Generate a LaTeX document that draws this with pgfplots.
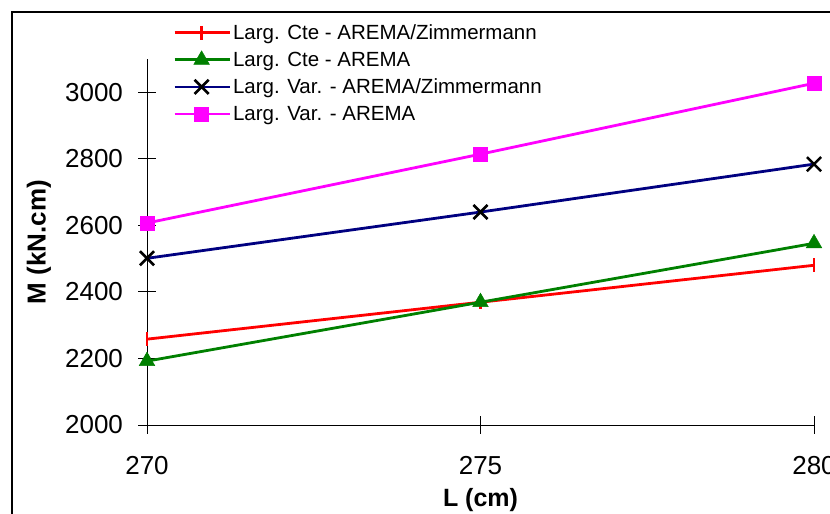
\documentclass[border=0pt]{standalone}
\usepackage{fontspec}
\setmainfont{Liberation Sans}
\usepackage{pgfplots}
\pgfplotsset{compat=1.18}
\definecolor{cred}{RGB}{255,0,0}
\definecolor{cgreen}{RGB}{0,128,0}
\definecolor{cnavy}{RGB}{0,0,128}
\definecolor{cmag}{RGB}{255,0,255}
\begin{document}
\begin{tikzpicture}
\useasboundingbox (0pt,0pt) rectangle (830pt,514pt);
\draw[line width=1.3pt] (12pt,-10pt) -- (12pt,502pt) -- (840pt,502pt);
\begin{axis}[
  at={(147pt,89pt)}, anchor=south west,
  scale only axis, width=667pt, height=366pt,
  xmin=270, xmax=280, ymin=2000, ymax=3100,
  axis lines=left, axis line style={-, line width=0.9pt},
  xtick={270,275,280}, ytick={2000,2200,...,3000},
  tick align=center, major tick length=17pt,
  tick style={line width=0.9pt, black},
  /pgf/number format/assume math mode=true,
  /pgf/number format/1000 sep={},
  tick label style={font=\fontsize{26}{30}\selectfont},
  yticklabel style={anchor=east, xshift=-12pt},
  xticklabel style={anchor=north, yshift=-19pt},
  xlabel={\textbf{L (cm)}}, ylabel={\textbf{M (kN.cm)}},
  xlabel style={font=\fontsize{25}{29}\selectfont, at={(axis description cs:0.5,0)}, anchor=center, yshift=-75pt},
  ylabel style={font=\fontsize{26}{30}\selectfont, at={(axis description cs:0,0.5)}, anchor=center, yshift=108pt},
  legend style={at={(axis description cs:0.039,1.10)}, anchor=north west,
    draw=none, fill=none, font=\fontsize{20.5}{24}\selectfont,
    row sep=7pt, inner sep=0pt},
  legend image code/.code={
    \draw[#1, mark repeat=2, mark phase=2] plot coordinates {(0pt,0pt) (27pt,0pt) (55pt,0pt)};
  },
  legend cell align=left,
  clip=false,
]
\addplot[cred, line width=2.8pt, mark=|, mark size=7pt, mark options={line width=2.5pt}] coordinates {(270,2258) (275,2369) (280,2480)};
\addlegendentry{Larg. Cte - AREMA/Zimmermann}
\addplot[cgreen, line width=2.8pt, mark=triangle*, mark size=9pt, mark options={line width=0.5pt}] coordinates {(270,2192) (275,2369) (280,2546)};
\addlegendentry{Larg. Cte - AREMA}
\addplot[cnavy, line width=2.8pt, mark=x, mark size=10pt, mark options={black, line width=2.6pt}] coordinates {(270,2501) (275,2640) (280,2784)};
\addlegendentry{Larg. Var. - AREMA/Zimmermann}
\addplot[cmag, line width=2.8pt, mark=square*, mark size=7pt, mark options={line width=0.5pt}] coordinates {(270,2607) (275,2814) (280,3027)};
\addlegendentry{Larg. Var. - AREMA}
\end{axis}
\end{tikzpicture}
\end{document}
